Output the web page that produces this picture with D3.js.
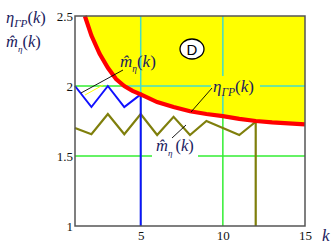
<!DOCTYPE html>
<html>
<head>
<meta charset="utf-8">
<script src="https://cdn.jsdelivr.net/npm/d3@7"></script>
<style>
body { margin: 0; background: #fff; }
svg text { font-family: "Liberation Serif", "DejaVu Serif", serif; }
</style>
</head>
<body>
<div id="main"></div>
<script>
const cte = {
    w: 336,
    h: 249,
    margin: { top: 16, right: 31, bottom: 23, left: 75 }
};

// boundary curve eta_GR(k)
const boundK = [1.6, 2, 2.5, 3, 3.5, 4, 4.5, 5, 6, 7, 8, 9, 10, 11, 12, 13, 14, 15];
const boundV = [2.5, 2.36, 2.23, 2.13, 2.05, 2.0, 1.965, 1.94, 1.885, 1.85, 1.82, 1.80, 1.785, 1.765, 1.75, 1.74, 1.733, 1.726];

// blue m-hat series (drops to bottom at k=5)
const blueK = [1, 2, 3, 4, 5, 5];
const blueV = [2.0, 1.85, 2.0, 1.85, 1.94, 1.0];

// olive m-hat series (drops to bottom at k=12)
const oliveK = [1, 2, 3, 4, 5, 6, 7, 8, 9, 10, 11, 12, 12];
const oliveV = [1.70, 1.655, 1.80, 1.655, 1.80, 1.65, 1.78, 1.65, 1.75, 1.70, 1.65, 1.745, 1.0];

const xTicks = [5, 10, 15];
const yTicks = [1, 1.5, 2, 2.5];
const xGrid = [5, 10];
const yGrid = [1.5, 2];

const m = cte.margin;
const width = cte.w - m.left - m.right;
const height = cte.h - m.top - m.bottom;

const x = d3.scaleLinear().domain([1, 15]).range([0, width]);
const y = d3.scaleLinear().domain([1, 2.5]).range([height, 0]);

const svg = d3.select("#main").append("svg")
    .attr("width", cte.w)
    .attr("height", cte.h);

const defs = svg.append("defs");
const g = svg.append("g").attr("transform", `translate(${m.left},${m.top})`);

const bound = boundK.map((k, i) => ({ k, v: boundV[i] }));
const areaGen = d3.area()
    .x(d => x(d.k))
    .y0(y(2.5))
    .y1(d => y(d.v));

defs.append("clipPath").attr("id", "yellowClip")
    .append("path").attr("d", areaGen(bound) + `L${x(15)},${y(2.5)}Z`);

function drawGrid(sel, color) {
    sel.selectAll(".vg").data(xGrid).enter().append("line")
        .attr("x1", d => x(d)).attr("x2", d => x(d))
        .attr("y1", 0).attr("y2", height)
        .attr("stroke", color).attr("stroke-width", 1.5);
    sel.selectAll(".hg").data(yGrid).enter().append("line")
        .attr("y1", d => y(d)).attr("y2", d => y(d))
        .attr("x1", 0).attr("x2", width)
        .attr("stroke", color).attr("stroke-width", 1.5);
}

// gridlines (green below, teal inside the yellow region)
drawGrid(g.append("g"), "#33ee33");
g.append("path").datum(bound)
    .attr("d", areaGen)
    .attr("fill", "#ffff00");
drawGrid(g.append("g").attr("clip-path", "url(#yellowClip)"), "#44dcc8");

// axes: labels only
g.append("g")
    .attr("transform", `translate(0,${height})`)
    .call(d3.axisBottom(x).tickValues(xTicks).tickSize(0).tickPadding(5).tickFormat(d3.format("d")))
    .attr("font-family", "Liberation Serif");
g.append("g")
    .call(d3.axisLeft(y).tickValues(yTicks).tickSize(0).tickPadding(2).tickFormat(d => d))
    .attr("font-family", "Liberation Serif");
g.selectAll(".domain").remove();
g.selectAll(".tick text")
    .style("font-size", "13px")
    .attr("fill", "#111");

// label backgrounds (cut the gridlines)
g.append("rect").attr("x", 136).attr("y", 60).attr("width", 49).attr("height", 20).attr("fill", "#ffff00");
g.append("rect").attr("x", 77).attr("y", 121).attr("width", 46).attr("height", 22).attr("fill", "#fff");

// series
const line = d3.line().x(d => x(d.k)).y(d => y(d.v));

g.append("path")
    .datum(oliveK.map((k, i) => ({ k, v: oliveV[i] })))
    .attr("d", line)
    .attr("fill", "none")
    .attr("stroke", "#7f7f0c")
    .attr("stroke-width", 2.2)
    .attr("stroke-linejoin", "miter");

g.append("path")
    .datum(blueK.map((k, i) => ({ k, v: blueV[i] })))
    .attr("d", line)
    .attr("fill", "none")
    .attr("stroke", "#1010ff")
    .attr("stroke-width", 2)
    .attr("stroke-linejoin", "miter");

g.append("path")
    .datum(bound)
    .attr("d", line)
    .attr("fill", "none")
    .attr("stroke", "#ff0000")
    .attr("stroke-width", 4.2);

// frame
g.append("rect")
    .attr("width", width).attr("height", height)
    .attr("fill", "none")
    .attr("stroke", "#555").attr("stroke-width", 1.5);

// leader lines
g.append("line").attr("x1", 10).attr("y1", 79).attr("x2", 28).attr("y2", 69)
    .attr("stroke", "#ffff00").attr("stroke-width", 1);
g.append("line").attr("x1", 6).attr("y1", 77).attr("x2", 48).attr("y2", 54)
    .attr("stroke", "#000").attr("stroke-width", 0.9);
g.append("line").attr("x1", 137).attr("y1", 72).attr("x2", 116).attr("y2", 96)
    .attr("stroke", "#000").attr("stroke-width", 0.9);
g.append("line").attr("x1", 97).attr("y1", 122).attr("x2", 111).attr("y2", 109)
    .attr("stroke", "#000").attr("stroke-width", 0.9);

// math labels
const navy = "#1a1a5e";
function etaLabel(sel, px, py, size) {
    const t = sel.append("text").attr("x", px).attr("y", py)
        .attr("fill", navy).style("font-size", size + "px").style("font-style", "italic");
    t.append("tspan").text("η");
    t.append("tspan").attr("dy", size * 0.25).style("font-size", (size * 0.68) + "px").text("ГР");
    t.append("tspan").attr("dy", -size * 0.25).style("font-style", "normal").text("(");
    t.append("tspan").text("k");
    t.append("tspan").style("font-style", "normal").text(")");
}
function mLabel(sel, px, py, size, gap) {
    const t = sel.append("text").attr("x", px).attr("y", py)
        .attr("fill", navy).style("font-size", size + "px").style("font-style", "italic");
    t.append("tspan").text("m\u0302");
    t.append("tspan").attr("dy", size * 0.3).style("font-size", (size * 0.55) + "px").text("η");
    t.append("tspan").attr("dy", -size * 0.3).attr("dx", gap).style("font-style", "normal").text("(");
    t.append("tspan").text("k");
    t.append("tspan").style("font-style", "normal").text(")");
}

etaLabel(svg, 6, 23, 16.5);
mLabel(svg, 6, 47, 16.5, 0);
mLabel(g, 45, 51, 17, 0);
etaLabel(g, 138, 76, 17);
mLabel(g, 81, 135, 16.5, 3);

// region marker D
g.append("ellipse").attr("cx", 117).attr("cy", 33).attr("rx", 12).attr("ry", 10)
    .attr("fill", "#fff").attr("stroke", "#000").attr("stroke-width", 1.3);
g.append("text").attr("x", 117).attr("y", 38.5).attr("text-anchor", "middle")
    .style("font-family", "Liberation Sans").style("font-size", "15px")
    .attr("fill", "#000").text("D");

// k axis title
svg.append("text").attr("x", 322).attr("y", 241)
    .style("font-size", "17px").style("font-style", "italic")
    .attr("fill", navy).text("k");
</script>
</body>
</html>
